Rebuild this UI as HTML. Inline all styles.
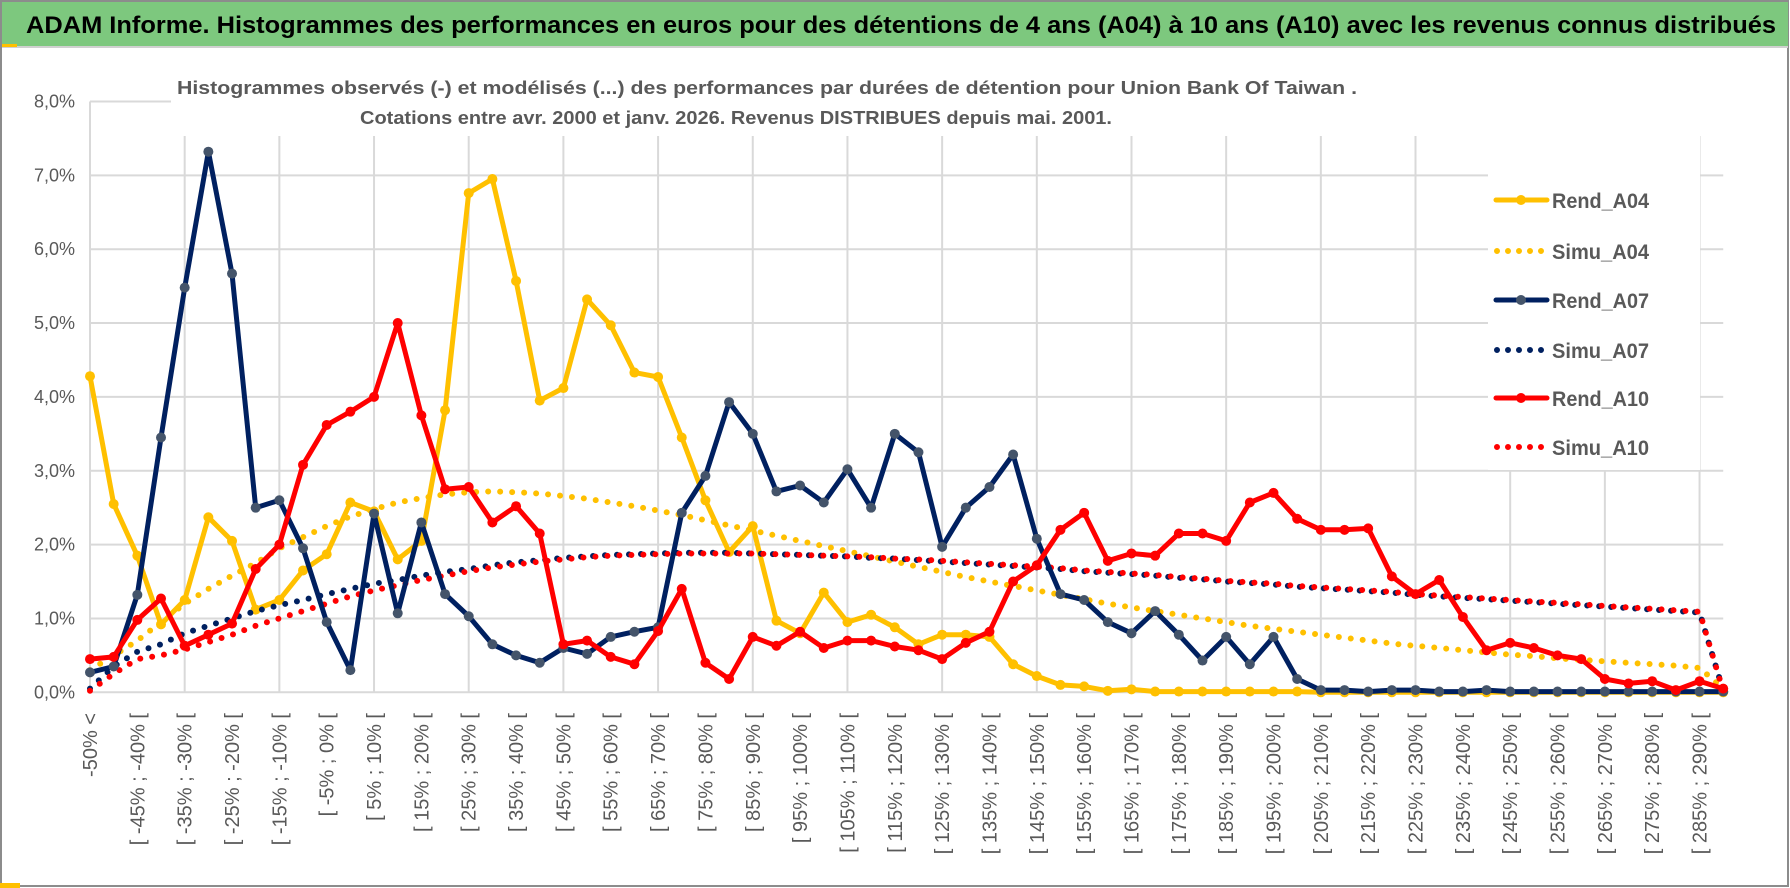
<!DOCTYPE html>
<html><head><meta charset="utf-8"><style>
html,body{margin:0;padding:0;background:#fff;}
svg{display:block;font-family:"Liberation Sans",sans-serif;}
</style></head><body>
<svg id="chart" width="1790" height="888" viewBox="0 0 1790 888">
<rect x="0" y="0" width="1790" height="888" fill="#fff"/>
<rect x="1" y="1" width="1787" height="885" fill="none" stroke="#8c8c8c" stroke-width="2"/>
<rect x="2" y="2" width="1786" height="44" fill="#7dc87e"/>
<line x1="2" y1="47" x2="1788" y2="47" stroke="#d0d0d0" stroke-width="2"/>
<rect x="2" y="44" width="15" height="3" fill="#ffc000"/>
<text x="26" y="33" font-size="24" font-weight="bold" fill="#000" textLength="1750" lengthAdjust="spacingAndGlyphs">ADAM Informe. Histogrammes des performances en euros pour des détentions de 4 ans (A04) à 10 ans (A10) avec les revenus connus distribués</text>
<rect x="0" y="883" width="20" height="5" fill="#ffc000"/>
<g id="grid"></g>
<rect x="171" y="55" width="1580" height="80" fill="#fff"/>
<text x="177" y="94" font-size="18" font-weight="bold" fill="#595959" textLength="1180" lengthAdjust="spacingAndGlyphs">Histogrammes observés (-) et modélisés (...) des performances par durées de détention pour Union Bank Of Taiwan .</text>
<text x="360" y="124" font-size="18" font-weight="bold" fill="#595959" textLength="752" lengthAdjust="spacingAndGlyphs">Cotations entre avr. 2000 et janv. 2026. Revenus DISTRIBUES depuis mai. 2001.</text>
<g id="yaxis"></g>
<g id="xaxis"></g>
<g id="series"></g>
<rect x="1488" y="136" width="212" height="334" fill="#fff"/>
<g id="legend"></g>
</svg>
<script>
const categoriesCount = 70;
const yTicks = [0,1,2,3,4,5,6,7,8];
const rendA04 = [4.28,2.55,1.85,0.92,1.25,2.37,2.05,1.12,1.25,1.65,1.87,2.57,2.45,1.8,2.05,3.82,6.76,6.95,5.57,3.95,4.12,5.32,4.97,4.33,4.27,3.45,2.6,1.9,2.25,0.97,0.8,1.35,0.95,1.05,0.88,0.65,0.78,0.78,0.75,0.38,0.22,0.1,0.08,0.02,0.04,0.01,0.01,0.01,0.01,0.01,0.01,0.01,0,0,0,0,0,0,0,0,0,0,0,0,0,0,0,0,0,0];
const simuA04 = [0.3,0.5,0.7,0.95,1.2,1.4,1.58,1.75,1.95,2.1,2.25,2.38,2.48,2.57,2.63,2.68,2.71,2.72,2.71,2.69,2.66,2.62,2.57,2.52,2.46,2.4,2.33,2.26,2.19,2.12,2.05,1.98,1.91,1.84,1.77,1.7,1.63,1.56,1.5,1.44,1.38,1.32,1.26,1.2,1.15,1.1,1.05,1.0,0.95,0.9,0.86,0.82,0.78,0.74,0.7,0.66,0.63,0.6,0.57,0.54,0.51,0.49,0.46,0.44,0.42,0.4,0.38,0.36,0.33,0.05];
const rendA07 = [0.27,0.35,1.32,3.45,5.48,7.32,5.67,2.5,2.6,1.95,0.95,0.3,2.42,1.07,2.3,1.33,1.03,0.65,0.5,0.4,0.6,0.52,0.75,0.82,0.88,2.43,2.93,3.93,3.5,2.72,2.8,2.57,3.02,2.5,3.5,3.25,1.97,2.5,2.78,3.22,2.08,1.33,1.25,0.95,0.8,1.1,0.78,0.43,0.75,0.38,0.75,0.18,0.03,0.03,0.01,0.03,0.03,0.01,0.01,0.03,0.01,0.01,0.01,0.01,0.01,0.01,0.01,0.01,0.01,0.01];
const simuA07 = [0.05,0.35,0.55,0.65,0.8,0.9,1.0,1.1,1.18,1.25,1.33,1.4,1.47,1.52,1.58,1.63,1.67,1.72,1.76,1.79,1.82,1.84,1.86,1.87,1.88,1.89,1.89,1.89,1.88,1.87,1.86,1.85,1.84,1.82,1.81,1.79,1.77,1.75,1.73,1.71,1.69,1.67,1.64,1.62,1.6,1.58,1.55,1.53,1.5,1.48,1.46,1.43,1.41,1.39,1.37,1.35,1.32,1.3,1.28,1.26,1.24,1.22,1.2,1.18,1.16,1.14,1.12,1.1,1.08,0.02];
const rendA10 = [0.45,0.48,0.98,1.27,0.63,0.78,0.93,1.67,2.0,3.08,3.62,3.8,4.0,5.0,3.75,2.75,2.78,2.3,2.52,2.15,0.65,0.7,0.48,0.38,0.83,1.4,0.4,0.18,0.75,0.63,0.82,0.6,0.7,0.7,0.62,0.57,0.45,0.67,0.82,1.5,1.72,2.2,2.43,1.78,1.88,1.85,2.15,2.15,2.05,2.57,2.7,2.35,2.2,2.2,2.22,1.57,1.33,1.52,1.02,0.57,0.67,0.6,0.5,0.45,0.18,0.12,0.15,0.03,0.15,0.05];
const simuA10 = [0.02,0.25,0.45,0.5,0.58,0.68,0.78,0.9,1.0,1.1,1.2,1.3,1.38,1.45,1.52,1.58,1.64,1.69,1.73,1.77,1.8,1.83,1.85,1.86,1.87,1.88,1.88,1.88,1.88,1.87,1.86,1.85,1.84,1.83,1.81,1.8,1.78,1.76,1.74,1.72,1.7,1.68,1.65,1.63,1.61,1.59,1.56,1.54,1.51,1.49,1.47,1.44,1.42,1.4,1.38,1.36,1.33,1.31,1.29,1.27,1.25,1.23,1.21,1.19,1.17,1.15,1.13,1.11,1.09,0.02];

const NS = "http://www.w3.org/2000/svg";
const X0 = 90, DX = 23.67, Y0 = 692.3, DY = 73.85;
function xs(i){ return X0 + i*DX; }
function ys(v){ return Y0 - v*DY; }
function mk(tag, attrs, parent){ const e = document.createElementNS(NS, tag); for (const k in attrs) e.setAttribute(k, attrs[k]); parent.appendChild(e); return e; }
function label(i){ if (i===0) return "-50% <"; const k=i/2; const a=10*k-55, b=10*k-50; return "[ "+a+"% ; "+b+"% ["; }

const grid = document.getElementById("grid");
const xRight = xs(categoriesCount-1);
yTicks.forEach(t => {
  const l = mk("line", {x1:X0, x2:xRight, y1:ys(t), y2:ys(t), stroke:"#d9d9d9", "stroke-width":2}, grid);
  
  
});
for (let i=4; i<categoriesCount; i+=4){
  const l = mk("line", {x1:xs(i), x2:xs(i), y1:136, y2:Y0, stroke:"#d9d9d9", "stroke-width":2}, grid);
  
  
}
const ax = mk("line", {x1:X0, x2:X0, y1:ys(8), y2:Y0, stroke:"#d9d9d9", "stroke-width":2}, grid);



const yaxis = document.getElementById("yaxis");
yTicks.forEach(t => {
  const e = mk("text", {x:75, y:ys(t)+6, "text-anchor":"end", "font-size":18, fill:"#595959"}, yaxis);
  e.textContent = t.toFixed(1).replace(".", ",") + "%";
  
  
});
const xaxis = document.getElementById("xaxis");
for (let i=0; i<categoriesCount; i+=2){
  const x = xs(i)+7, y = 713;
  const e = mk("text", {x:x, y:y, transform:"rotate(-90 "+x+" "+y+")", "text-anchor":"end", "font-size":20, fill:"#595959"}, xaxis);
  e.textContent = label(i);
  
  
}

const series = document.getElementById("series");
function pts(arr){ return arr.map((v,i)=> xs(i).toFixed(1)+","+ys(v).toFixed(1)).join(" "); }
function dotted(arr, color, name){
  const p = mk("polyline", {points:pts(arr), fill:"none", stroke:color, "stroke-width":6, "stroke-linecap":"round", "stroke-dasharray":"0 12"}, series);
  
  
}
function solid(arr, color, mcolor, name){
  const g = mk("g", {}, series);
  
  
  const p = mk("polyline", {points:pts(arr), fill:"none", stroke:color, "stroke-width":5, "stroke-linejoin":"round"}, g);
  
  
  arr.forEach((v,i)=>{
    const c = mk("circle", {cx:xs(i), cy:ys(v), r:5, fill:mcolor}, g);
    
    
  });
}
dotted(simuA04, "#ffc000", "simu-a04-line");
solid(rendA04, "#ffc000", "#ffc000", "rend-a04");
dotted(simuA07, "#002060", "simu-a07-line");
dotted(simuA10, "#ff0000", "simu-a10-line");
solid(rendA07, "#002060", "#44546a", "rend-a07");
solid(rendA10, "#ff0000", "#ff0000", "rend-a10");

const legend = document.getElementById("legend");
const entries = [["Rend_A04","#ffc000","#ffc000",false],["Simu_A04","#ffc000",null,true],["Rend_A07","#002060","#44546a",false],["Simu_A07","#002060",null,true],["Rend_A10","#ff0000","#ff0000",false],["Simu_A10","#ff0000",null,true]];
const legY = [200,251,300,350,398,447];
entries.forEach((en,k)=>{
  const g = mk("g", {}, legend);
  
  
  const y = legY[k];
  if (en[3]) {
    const l = mk("line", {x1:1497, x2:1545, y1:y, y2:y, stroke:en[1], "stroke-width":6, "stroke-linecap":"round", "stroke-dasharray":"0 11"}, g);
    
    
  } else {
    const l = mk("line", {x1:1496, x2:1547, y1:y, y2:y, stroke:en[1], "stroke-width":5, "stroke-linecap":"round"}, g);
    
    
    const c = mk("circle", {cx:1521, cy:y, r:5, fill:en[2]}, g);
    
    
  }
  const t = mk("text", {x:1552, y:y+8, "font-size":21, "font-weight":"bold", fill:"#595959", textLength:97, lengthAdjust:"spacingAndGlyphs"}, g);
  t.textContent = en[0];
  
  
});
</script>
</body></html>
